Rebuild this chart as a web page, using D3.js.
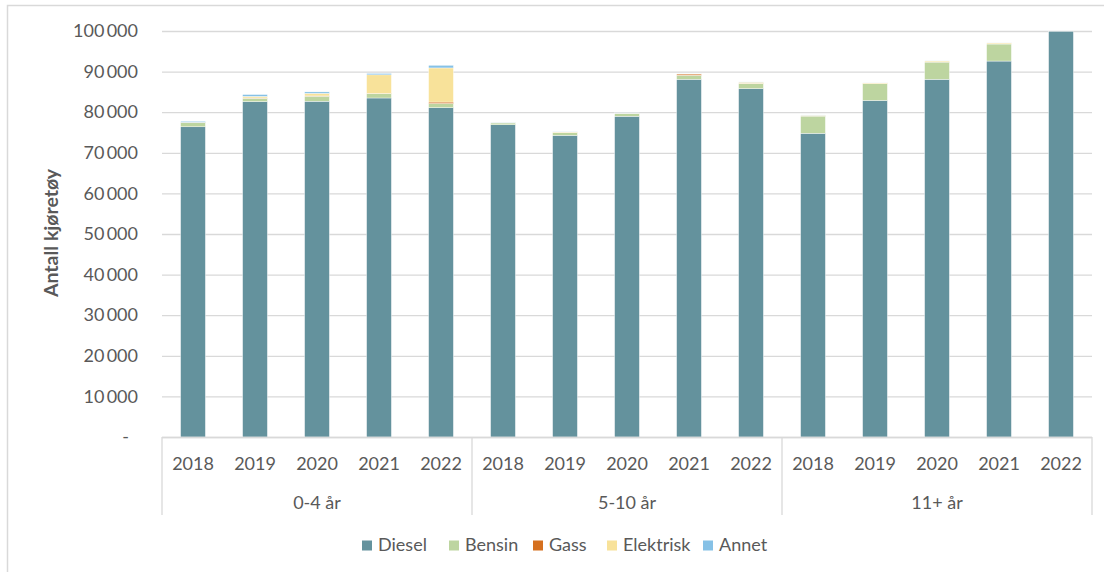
<!DOCTYPE html>
<html>
<head>
<meta charset="utf-8">
<script src="https://cdn.jsdelivr.net/npm/d3@7"></script>
<style>
  html, body { margin: 0; padding: 0; background: #fff; }
  svg { display: block; }
  text { font-family: Lato, "Open Sans", sans-serif; fill: #595959; }
</style>
</head>
<body>
<svg id="chart" width="1104" height="572"></svg>
<script>
// ---- Data ----
const groups = ["0-4 år", "5-10 år", "11+ år"];
const years = ["2018", "2019", "2020", "2021", "2022"];
const seriesNames = ["Diesel", "Bensin", "Gass", "Elektrisk", "Annet"];
const diesel    = [76400, 82600, 82700, 83500, 81100, 76900, 74300, 79000, 88100, 85800, 74800, 82900, 88100, 92600, 99900];
const bensin    = [1000, 850, 1250, 1050, 1050, 450, 650, 700, 1000, 1250, 4250, 4100, 4250, 4200, 0];
const gass      = [50, 50, 50, 50, 350, 20, 20, 20, 300, 50, 20, 20, 20, 20, 0];
const elektrisk = [50, 400, 650, 4600, 8400, 50, 150, 50, 50, 300, 200, 200, 250, 250, 0];
const annet     = [250, 450, 350, 350, 650, 50, 50, 50, 50, 50, 50, 50, 50, 50, 0];
const yTicks = [0, 10000, 20000, 30000, 40000, 50000, 60000, 70000, 80000, 90000, 100000];
const colors = ["#64929D", "#BDD5A0", "#D5701F", "#F8E29A", "#86C1E6"];

(function () {
// ---- Build table ----
const seriesValues = [diesel, bensin, gass, elektrisk, annet];
const rows = [];
groups.forEach((g, gi) => years.forEach((yr, yi) => {
  const idx = gi * years.length + yi;
  const r = { key: g + "|" + yr, group: g, year: yr };
  seriesNames.forEach((s, si) => r[s] = seriesValues[si][idx]);
  rows.push(r);
}));

const svg = d3.select("#chart");
const pLeft = 162, pRight = 1092, pTop = 31, pBottom = 437;
const fs = "18px";

// outer frame
svg.append("rect").attr("x", 7.5).attr("y", 5.5).attr("width", 1120).attr("height", 600)
  .attr("fill", "none").attr("stroke", "#D9D9D9").attr("stroke-width", 1.5);

const x = d3.scaleBand().domain(rows.map(d => d.key)).range([pLeft, pRight])
  .paddingInner(0.6).paddingOuter(0.3);
const y = d3.scaleLinear().domain([0, 100000]).range([pBottom, pTop]);

// grid + y axis labels
const fmt = v => v === 0 ? "-" : d3.format(",")(v).replace(/,/g, "\u2009");
const yAxis = d3.axisLeft(y).tickValues(yTicks).tickSize(-(pRight - pLeft)).tickFormat(fmt).tickPadding(24);
const gy = svg.append("g").attr("transform", `translate(${pLeft},0)`).call(yAxis);
gy.select(".domain").remove();
gy.selectAll(".tick line").attr("stroke", "#D9D9D9").attr("stroke-width", 1.3);
gy.selectAll(".tick text").style("font-size", fs).attr("fill", "#595959");
gy.selectAll(".tick").filter(d => d === 0).select("text").attr("dx", -9);

// stacked bars
const stack = d3.stack().keys(seriesNames)(rows);
svg.append("g").selectAll("g").data(stack).join("g")
  .attr("fill", (d, i) => colors[i])
  .selectAll("rect").data(d => d.filter(p => p[1] - p[0] > 0)).join("rect")
  .attr("x", d => x(d.data.key))
  .attr("width", x.bandwidth())
  .attr("y", d => y(d[1]))
  .attr("height", d => y(d[0]) - y(d[1]))
  .attr("stroke", "#fff").attr("stroke-width", 0.4);

// x axis box lines
const axisCol = "#D9D9D9";
svg.append("line").attr("x1", pLeft).attr("x2", pRight).attr("y1", pBottom + 0.5).attr("y2", pBottom + 0.5)
  .attr("stroke", axisCol).attr("stroke-width", 1.3);
const groupW = (pRight - pLeft) / groups.length;
d3.range(groups.length + 1).forEach(i => {
  svg.append("line").attr("x1", pLeft + i * groupW).attr("x2", pLeft + i * groupW)
    .attr("y1", pBottom).attr("y2", 515).attr("stroke", axisCol).attr("stroke-width", 1.3);
});

// year labels
const xAxis = d3.axisBottom(x).tickSize(0).tickPadding(0).tickFormat(k => k.split("|")[1]);
const gx = svg.append("g").attr("transform", `translate(0,${pBottom})`).call(xAxis);
gx.select(".domain").remove();
gx.selectAll(".tick text").style("font-size", fs).attr("fill", "#595959")
  .attr("dy", null).attr("y", 470 - pBottom);

// group labels
svg.append("g").selectAll("text").data(groups).join("text")
  .attr("x", (d, i) => pLeft + (i + 0.5) * groupW)
  .attr("y", 509).attr("text-anchor", "middle").style("font-size", fs)
  .text(d => d);

// y axis title
svg.append("text").attr("transform", "translate(58,233) rotate(-90)")
  .attr("text-anchor", "middle").style("font-size", "19.5px").style("font-weight", "bold")
  .text("Antall kjøretøy");

// legend
const legendX = [362, 449, 533, 607, 703];
const lg = svg.append("g").selectAll("g").data(seriesNames).join("g")
  .attr("transform", (d, i) => `translate(${legendX[i]},545)`);
lg.append("rect").attr("x", 0).attr("y", -4.5).attr("width", 10).attr("height", 10)
  .attr("fill", (d, i) => colors[i]);
lg.append("text").attr("x", 16).attr("y", 6).style("font-size", fs).text(d => d);
})();
</script>
</body>
</html>
